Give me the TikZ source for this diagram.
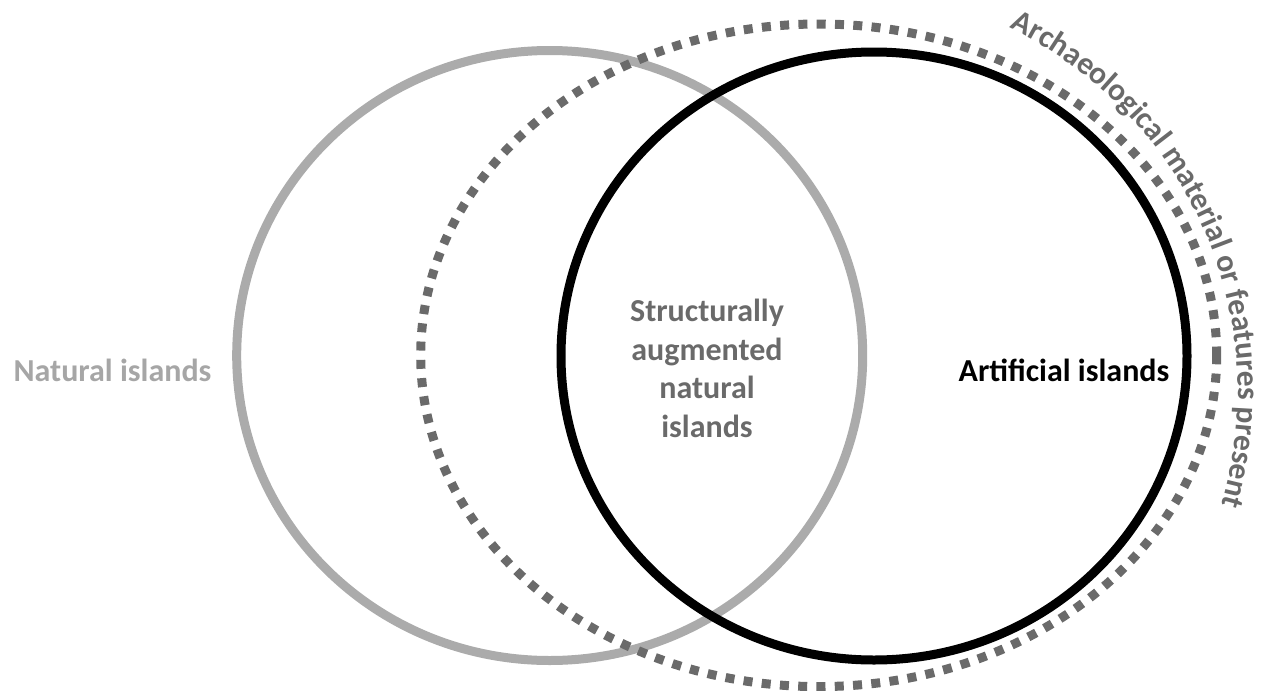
\documentclass[tikz,border=0pt]{standalone}
\usepackage{fontspec}
\setmainfont{Carlito}
\usetikzlibrary{decorations.text}
\definecolor{lgray}{HTML}{ABABAB}
\definecolor{ltext}{HTML}{A6A6A6}
\definecolor{dgray}{HTML}{6A6A6A}
\tikzset{
  ring/.style={line width=9pt},
  dotring/.style={line width=9pt, color=dgray, dash pattern=on 9pt off 9.3pt},
  lbl/.style={font=\fontsize{32}{38.5}\selectfont\bfseries, anchor=base, inner sep=0pt, align=center}
}
\begin{document}
\begin{tikzpicture}[x=1pt,y=-1pt]
\useasboundingbox (0,0) rectangle (1262,691);
\draw[ring, lgray] (549.7,355.5) ellipse[x radius=313, y radius=305];
\draw[ring, black] (874,356) ellipse[x radius=313, y radius=304];
\draw[dotring] (818.7,355.3) ellipse[x radius=398, y radius=331.3];
\node[lbl, text=ltext] (nat) at (112.5,381) {Natural islands};
\node[lbl, text=dgray] (sani) at (707,437) {Structurally\\augmented\\natural\\islands};
\node[lbl, text=black] (art) at (1064,381) {Artificial islands};
\path[decorate, decoration={text along path, text align=left,
  text={|\fontsize{31.5}{37}\selectfont\bfseries\color{dgray}|Archaeological material or features present}}]
  (834,392) ++(-64.3:404) arc[start angle=-64.3, end angle=35, radius=404];
\end{tikzpicture}
\end{document}
